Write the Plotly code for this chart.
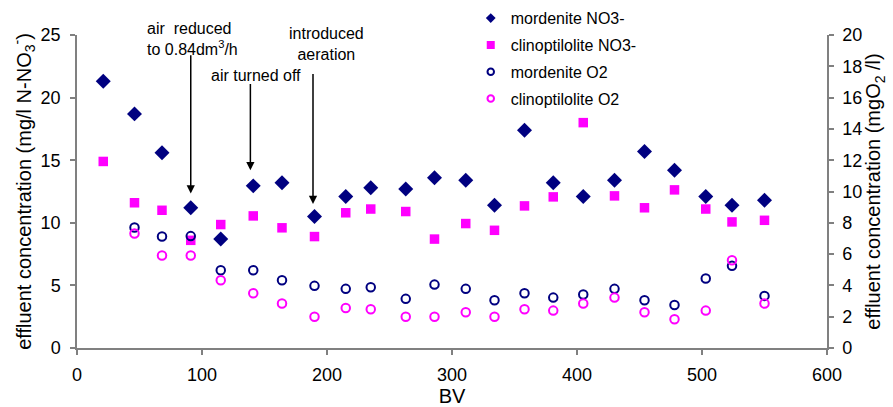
import plotly.graph_objects as go

# Bed volumes (BV) at which samples were taken
bv_no3 = [21, 46, 68, 91, 115, 141, 164, 190, 215, 235, 263, 286, 311, 334, 358, 381, 405, 430, 454, 478, 503, 524, 550]
bv_o2 = [46, 68, 91, 115, 141, 164, 190, 215, 235, 263, 286, 311, 334, 358, 381, 405, 430, 454, 478, 503, 524, 550]

# Effluent nitrate, mg/l N-NO3-
mordenite_no3 = [21.3, 18.7, 15.6, 11.2, 8.7, 12.95, 13.2, 10.5, 12.1, 12.8, 12.7, 13.6,
                 13.4, 11.4, 17.4, 13.2, 12.1, 13.4, 15.7, 14.2, 12.1, 11.4, 11.8]
clino_no3 = [14.9, 11.6, 11.0, 8.6, 9.86, 10.55, 9.6, 8.9, 10.8, 11.1, 10.9, 8.7,
             9.94, 9.4, 11.35, 12.07, 18.0, 12.15, 11.2, 12.63, 11.1, 10.07, 10.2]

# Effluent dissolved oxygen, mgO2/l
mordenite_o2 = [7.7, 7.13, 7.15, 4.97, 4.97, 4.33, 3.97, 3.78, 3.88, 3.14, 4.05,
                3.78, 3.05, 3.5, 3.22, 3.42, 3.78, 3.05, 2.75, 4.44, 5.25, 3.33]
clino_o2 = [7.32, 5.91, 5.91, 4.33, 3.5, 2.84, 2.0, 2.56, 2.48, 2.0, 2.0,
            2.28, 2.0, 2.48, 2.39, 2.84, 3.22, 2.28, 1.84, 2.39, 5.61, 2.84]

NAVY = "#000080"
MAGENTA = "#FF00FF"
AXIS_GREY = "#808080"
FONT = "Liberation Sans, Arial, sans-serif"

fig = go.Figure()

# data markers (legend drawn separately with smaller symbols)
fig.add_trace(go.Scatter(x=bv_no3, y=mordenite_no3, mode="markers", showlegend=False,
                         marker=dict(symbol="diamond", size=11.5, color=NAVY)))
fig.add_trace(go.Scatter(x=bv_no3, y=clino_no3, mode="markers", showlegend=False,
                         marker=dict(symbol="square", size=9.5, color=MAGENTA)))
fig.add_trace(go.Scatter(x=bv_o2, y=mordenite_o2, mode="markers", showlegend=False, yaxis="y2",
                         marker=dict(symbol="circle-open", size=8.5, color=NAVY, line=dict(width=2, color=NAVY))))
fig.add_trace(go.Scatter(x=bv_o2, y=clino_o2, mode="markers", showlegend=False, yaxis="y2",
                         marker=dict(symbol="circle-open", size=8.5, color=MAGENTA, line=dict(width=2, color=MAGENTA))))

# legend entries
legend_items = [
    ("mordenite NO3-", dict(symbol="diamond", size=7.5, color=NAVY)),
    ("clinoptilolite NO3-", dict(symbol="square", size=8, color=MAGENTA)),
    ("mordenite O2", dict(symbol="circle-open", size=6.5, color=NAVY, line=dict(width=2, color=NAVY))),
    ("clinoptilolite O2", dict(symbol="circle-open", size=6.5, color=MAGENTA, line=dict(width=2, color=MAGENTA))),
]
for i, (name, mk) in enumerate(legend_items):
    fig.add_trace(go.Scatter(x=[None], y=[None], mode="markers", name=name, marker=mk,
                             legendgroup=f"g{i}", showlegend=True))

# process events marked with arrows (BV, arrow tip, arrow tail on NO3 axis)
arrows = [(91, 12.35, 23.5), (138.7, 14.2, 21.2), (188.8, 11.5, 22.0)]
annotations = []
for x, tip, tail in arrows:
    annotations.append(dict(x=x, y=tip, ax=x, ay=tail, xref="x", yref="y", axref="x", ayref="y",
                            text="", font=dict(size=1), showarrow=True, arrowhead=2, arrowsize=1.1,
                            arrowwidth=1.5, arrowcolor="black"))

labels = [
    dict(x=54.2, y=0.986, xref="x", yref="paper", text="air  reduced<br>to 0.84dm<sup>3</sup>/h",
         showarrow=False, xanchor="left", yanchor="middle", align="left"),
    dict(x=143.5, y=21.8, xref="x", yref="y", text="air turned off",
         showarrow=False, xanchor="center", yanchor="middle"),
    dict(x=199.4, y=0.970, xref="x", yref="paper", text="introduced<br>aeration",
         showarrow=False, xanchor="center", yanchor="middle", align="center"),
]
for a in labels:
    a["font"] = dict(family=FONT, size=16, color="black")
annotations += labels

axis_common = dict(showgrid=False, zeroline=False, showline=True, linecolor=AXIS_GREY, linewidth=1.5,
                   ticks="outside", ticklen=5, tickwidth=1.5, tickcolor=AXIS_GREY, automargin=False,
                   tickfont=dict(family=FONT, size=18, color="black"))

fig.update_layout(
    width=893, height=407,
    margin=dict(l=77, r=66, t=35, b=59, autoexpand=False),
    paper_bgcolor="white", plot_bgcolor="white",
    font=dict(family=FONT, color="black"),
    xaxis=dict(range=[0, 600], dtick=100, tick0=0, ticklabelstandoff=5,
               title=dict(text="BV", font=dict(family=FONT, size=20), standoff=14), **axis_common),
    yaxis=dict(range=[0, 25], dtick=5, tick0=0, ticklabelstandoff=6,
               title=dict(text="effluent concentration (mg/l N-NO<sub>3</sub><sup>-</sup>)",
                          font=dict(family=FONT, size=20), standoff=4), **axis_common),
    yaxis2=dict(range=[0, 20], dtick=2, tick0=0, overlaying="y", side="right", anchor="x",
                ticklabelstandoff=5,
                title=dict(text="effluent concentration (mgO<sub>2</sub> /l)",
                           font=dict(family=FONT, size=20), standoff=5), **axis_common),
    legend=dict(x=0.525, xanchor="left", y=1.108, yanchor="top", bgcolor="rgba(0,0,0,0)",
                font=dict(family=FONT, size=16, color="black"), tracegroupgap=3, itemwidth=30),
    annotations=annotations,
)

fig.write_html("out.html")
